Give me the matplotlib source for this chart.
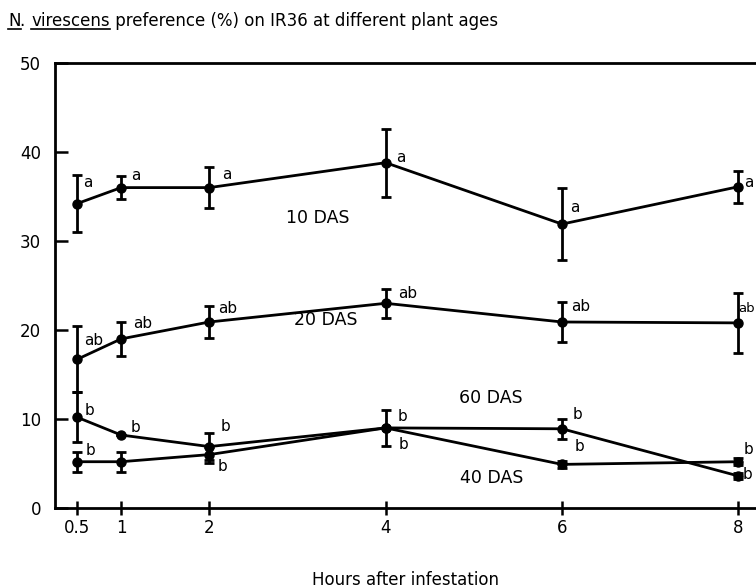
import matplotlib
matplotlib.use("Agg")
import matplotlib.pyplot as plt
from matplotlib.lines import Line2D

# ---- data ----
hours = [0.5, 1, 2, 4, 6, 8]
x_ticklabels = ["0.5", "1", "2", "4", "6", "8"]
y_ticks = [0, 10, 20, 30, 40, 50]

das10 = [34.2, 36.0, 36.0, 38.8, 31.9, 36.1]
das10_err = [3.2, 1.3, 2.3, 3.8, 4.0, 1.8]
das10_sig = ["a", "a", "a", "a", "a", "a"]

das20 = [16.7, 19.0, 20.9, 23.0, 20.9, 20.8]
das20_err = [3.7, 1.9, 1.8, 1.6, 2.2, 3.4]
das20_sig = ["ab", "ab", "ab", "ab", "ab", "ab"]

das60 = [10.2, 8.2, 6.9, 9.0, 8.9, 3.6]
das60_err = [2.8, 0.0, 1.5, 2.0, 1.1, 0.3]
das60_sig = ["b", "b", "b", "b", "b", "b"]

das40 = [5.2, 5.2, 6.0, 9.0, 4.9, 5.2]
das40_err = [1.1, 1.1, 0.9, 0.0, 0.4, 0.4]
das40_sig = ["b", "", "b", "b", "b", "b"]

series_names = ["10 DAS", "20 DAS", "60 DAS", "40 DAS"]

# ---- figure ----
W, H = 756, 588
fig = plt.figure(figsize=(W / 100, H / 100), dpi=100)
plt.rcParams['font.family'] = ['DejaVu Sans']

x0, x1 = 0.25, 8.2
left_px, bottom_px, top_px = 55, 508, 63
ax = fig.add_axes([left_px / W, (H - bottom_px) / H, (W - left_px) / W, (bottom_px - top_px) / H])
ax.set_xlim(x0, x1)
ax.set_ylim(0, 50)

lw = 2.0
common = dict(color="black", lw=lw, marker="o", ms=6.5, capsize=3.5, capthick=2.0, elinewidth=2.0, zorder=3)
ax.errorbar(hours, das10, yerr=das10_err, **common)
ax.errorbar(hours, das20, yerr=das20_err, **common)
ax.errorbar(hours, das60, yerr=das60_err, **common)
ax.errorbar(hours, das40, yerr=das40_err, **common)

# significance letters (offsets in pixels and font sizes, layout only)
off10 = [(6, 21), (10, 12), (13, 13), (10, 5), (8, 17), (6, 4)]
off20 = [(7, 19), (12, 15), (9, 13), (12, 10), (9, 15), (0, 14)]
off60 = [(8, 7), (9, 8), (11, 20), (12, 11), (11, 14), (4, 1)]
off40 = [(9, 11), (0, 0), (8, -12), (13, -17), (13, 18), (5, 12)]
fs20 = [11, 11, 11, 11, 11, 9.5]
fs_default = [11] * 6
for vals, sig, offs, fss in [(das10, das10_sig, off10, fs_default), (das20, das20_sig, off20, fs20),
                             (das60, das60_sig, off60, fs_default), (das40, das40_sig, off40, fs_default)]:
    for xv, yv, s, (dx, dy), fs in zip(hours, vals, sig, offs, fss):
        if s:
            ax.annotate(s, (xv, yv), xytext=(dx, dy), textcoords="offset pixels",
                        ha="left", va="center", fontsize=fs, annotation_clip=False)

# series labels
label_pos = [(3.23, 32.6), (3.32, 21.1), (5.19, 12.4), (5.2, 3.4)]
for name, (lx, ly) in zip(series_names, label_pos):
    ax.text(lx, ly, name, ha="center", va="center", fontsize=12.5)

ax.set_xticks(hours)
ax.set_xticklabels(x_ticklabels)
ax.set_yticks(y_ticks)
ax.tick_params(axis="x", direction="inout", length=10, width=1.8, labelsize=12, pad=3)
ax.tick_params(axis="y", direction="in", length=9, width=1.8, labelsize=12, pad=10)
for sp in ["left", "bottom", "top"]:
    ax.spines[sp].set_linewidth(2.0)
ax.spines["right"].set_visible(False)

ax.set_xlabel("Hours after infestation", fontsize=12)
ax.xaxis.set_label_coords(0.5, -0.142)

# title with underlined genus/species
fig.canvas.draw()
renderer = fig.canvas.get_renderer()
parts = [("N", True), (". ", False), ("virescens", True), (" preference (%) on IR36 at different plant ages", False)]
xpix = 8
ypix = H - 26
for txt, ul in parts:
    t = fig.text(xpix / W, ypix / H, txt, fontsize=12, ha="left", va="baseline")
    bb = t.get_window_extent(renderer)
    if ul:
        fig.add_artist(Line2D([bb.x0 / W, bb.x1 / W], [(ypix - 3) / H, (ypix - 3) / H],
                              transform=fig.transFigure, color="black", lw=1.2))
    xpix = bb.x1

fig.savefig("out.png", dpi=100)
